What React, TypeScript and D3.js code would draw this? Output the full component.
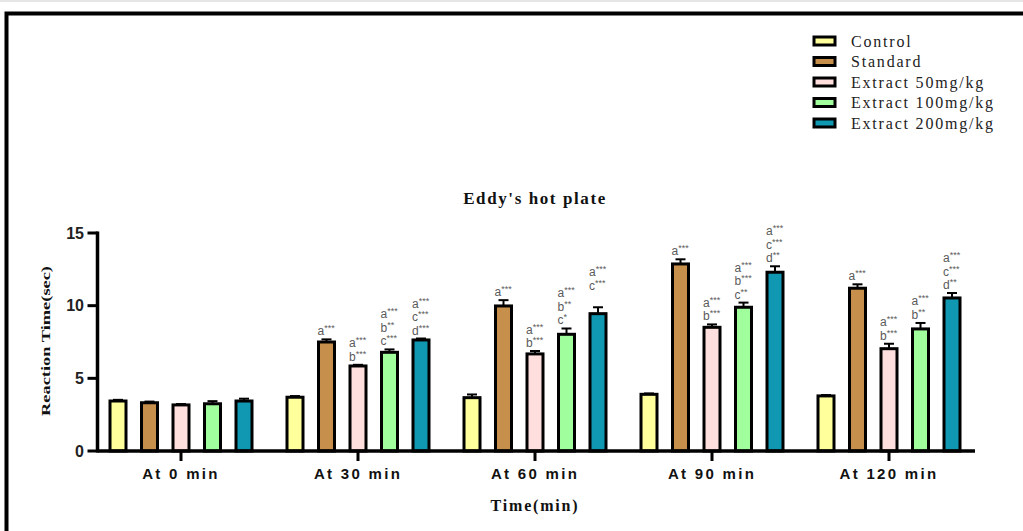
import React from "react";
import * as d3 from "d3";

const groups = ["At 0 min", "At 30 min", "At 60 min", "At 90 min", "At 120 min"];
const series = ["Control", "Standard", "Extract 50mg/kg", "Extract 100mg/kg", "Extract 200mg/kg"];
const colors = ["#FFFF9C", "#C6904C", "#FFDEDE", "#A0FF9C", "#1097B2"];

const controlVals = [3.44, 3.7, 3.67, 3.9, 3.79];
const standardVals = [3.32, 7.5, 9.98, 12.87, 11.2];
const ext50Vals = [3.17, 5.85, 6.68, 8.51, 7.04];
const ext100Vals = [3.25, 6.79, 8.03, 9.89, 8.4];
const ext200Vals = [3.44, 7.64, 9.45, 12.3, 10.53];

const controlErr = [0.08, 0.08, 0.22, 0.06, 0.06];
const standardErr = [0.08, 0.18, 0.4, 0.32, 0.27];
const ext50Err = [0.06, 0.08, 0.2, 0.2, 0.34];
const ext100Err = [0.18, 0.2, 0.4, 0.32, 0.41];
const ext200Err = [0.16, 0.1, 0.44, 0.41, 0.34];

const values = [controlVals, standardVals, ext50Vals, ext100Vals, ext200Vals];
const errors = [controlErr, standardErr, ext50Err, ext100Err, ext200Err];

// annotations[group][series] -> lines
const annotations: string[][][] = [
  [[], [], [], [], []],
  [[], ["a***"], ["a***", "b***"], ["a***", "b**", "c***"], ["a***", "c***", "d***"]],
  [[], ["a***"], ["a***", "b***"], ["a***", "b**", "c*"], ["a***", "c***", ""]],
  [[], ["a***"], ["a***", "b***"], ["a***", "b***", "c**"], ["a***", "c***", "d**"]],
  [[], ["a***"], ["a***", "b***"], ["a***", "b**"], ["a***", "c***", "d**"]],
];

const yTicks = [0, 5, 10, 15];

export default function App() {
  const W = 1023;
  const H = 531;
  const x0 = d3.scaleBand<string>().domain(groups).range([92.5, 977.5]).padding(0);
  const x1 = d3.scaleBand<string>().domain(series).range([-78.75, 78.75]).padding(0);
  const y = d3.scaleLinear().domain([0, 15]).range([451, 233]);
  const barW = 16;
  const axisX = 97.5;
  const serif = "'Liberation Serif', 'Times New Roman', serif";
  const sans = "'Liberation Sans', Arial, sans-serif";

  const center = (g: string, s: string) =>
    (x0(g) as number) + x0.bandwidth() / 2 + (x1(s) as number) + x1.bandwidth() / 2;

  return (
    <svg width={W} height={H} style={{ position: "absolute", left: 0, top: 0, background: "#fff" }}>
      {/* frame */}
      <line x1={0} x2={W} y1={1} y2={1} stroke="#ccc" strokeWidth={1} />
      <path d={`M6.5,${H} V13.5 H${W}`} fill="none" stroke="#000" strokeWidth={4} />

      {/* title */}
      <text x={535} y={204} textAnchor="middle" fontFamily={serif} fontWeight="bold" fontSize={17} letterSpacing={1.6} fill="#111">
        Eddy's hot plate
      </text>

      {/* legend */}
      {series.map((s, i) => (
        <g key={s} transform={`translate(0, ${41 + i * 20.5})`}>
          <rect x={814} y={-4} width={21} height={8} fill={colors[i]} stroke="#000" strokeWidth={3} />
          <text x={851} y={5.5} fontFamily={serif} fontSize={16} letterSpacing={1.8} fill="#222">
            {s}
          </text>
        </g>
      ))}

      {/* bars */}
      {groups.map((g, gi) =>
        series.map((s, si) => {
          const cx = center(g, s);
          const v = values[si][gi];
          const e = errors[si][gi];
          const top = y(v);
          const capY = y(v + e);
          const lines = annotations[gi][si];
          const n = lines.length;
          return (
            <g key={g + s}>
              <line x1={cx} x2={cx} y1={top} y2={capY} stroke="#000" strokeWidth={2} />
              <line x1={cx - 5} x2={cx + 5} y1={capY} y2={capY} stroke="#000" strokeWidth={2} />
              <rect x={cx - barW / 2} y={top} width={barW} height={y(0) - top} fill={colors[si]} stroke="#000" strokeWidth={3} />
              {lines.map((ln, li) => {
                if (!ln) return null;
                const cy = capY - 8 - (n - 1 - li) * 13.5;
                return (
                  <text key={li} x={cx - 9} y={cy + 4} fontFamily={sans} fontSize={12} fill="#5a5a5a">
                    {ln[0]}
                    <tspan fontSize={9} dy={-4}>{ln.slice(1)}</tspan>
                  </text>
                );
              })}
            </g>
          );
        })
      )}

      {/* y axis */}
      <line x1={axisX} x2={axisX} y1={y(15) - 1.5} y2={y(0) + 1.5} stroke="#000" strokeWidth={3.5} />
      {yTicks.map((t) => (
        <g key={t}>
          <line x1={axisX - 10} x2={axisX} y1={y(t)} y2={y(t)} stroke="#000" strokeWidth={3} />
          <text x={84} y={y(t) + 5.5} textAnchor="end" fontFamily={sans} fontWeight="bold" fontSize={16} fill="#222">
            {t}
          </text>
        </g>
      ))}
      <text
        transform={`translate(50, ${y(7.5) - 1}) rotate(-90)`}
        textAnchor="middle"
        fontFamily={serif}
        fontWeight="bold"
        fontSize={12}
        textLength={150}
        lengthAdjust="spacingAndGlyphs"
        fill="#111"
      >
        Reaction Time(sec)
      </text>

      {/* x axis */}
      <line x1={axisX} x2={975} y1={y(0)} y2={y(0)} stroke="#000" strokeWidth={3.5} />
      {groups.map((g) => {
        const cx = (x0(g) as number) + x0.bandwidth() / 2;
        return (
          <g key={g}>
            <line x1={cx} x2={cx} y1={y(0)} y2={y(0) + 10} stroke="#000" strokeWidth={3} />
            <text x={cx} y={479} textAnchor="middle" fontFamily={sans} fontWeight="bold" fontSize={15} letterSpacing={2.3} fill="#111">
              {g}
            </text>
          </g>
        );
      })}
      <text x={535} y={511} textAnchor="middle" fontFamily={serif} fontWeight="bold" fontSize={16} letterSpacing={1.8} fill="#111">
        Time(min)
      </text>
    </svg>
  );
}
